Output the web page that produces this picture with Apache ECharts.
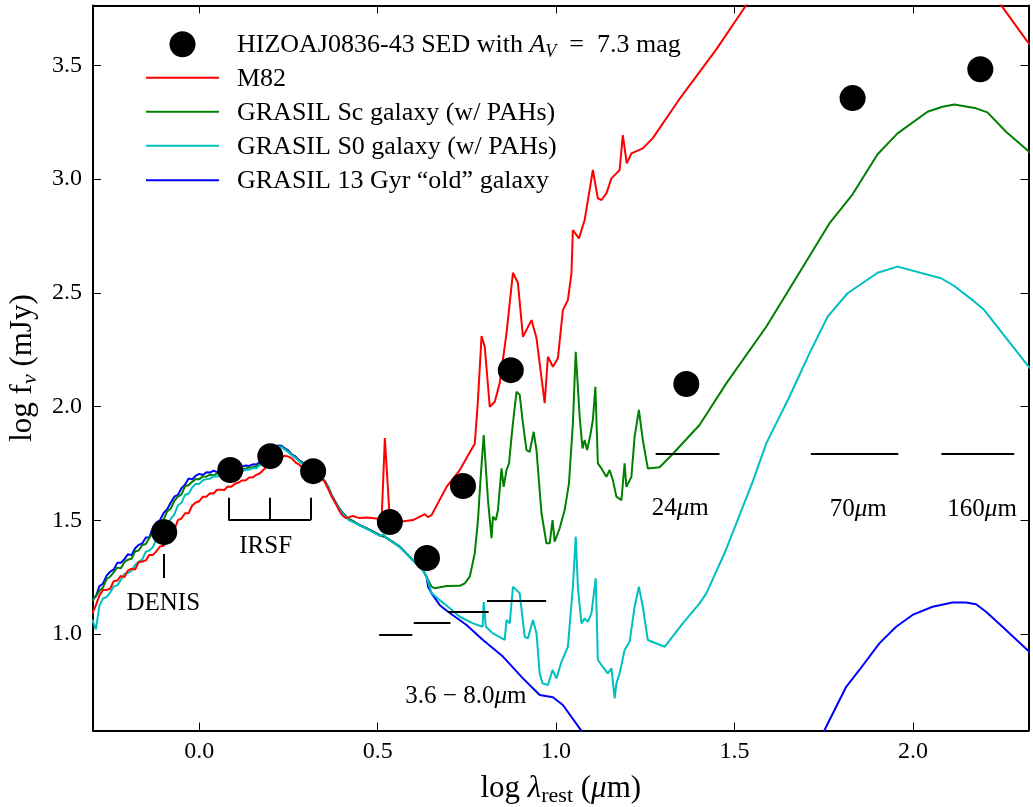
<!DOCTYPE html>
<html>
<head>
<meta charset="utf-8">
<title>HIZOAJ0836-43 SED</title>
<script src="https://cdn.jsdelivr.net/npm/echarts@6/dist/echarts.min.js"></script>
<style>
  html, body { margin: 0; padding: 0; background: #fff; }
  #chart { width: 1033px; height: 807px; }
</style>
</head>
<body>
<div id="chart"></div>
<script>
// ---- data: log wavelength (micron) vs log flux density (mJy) ----

// near-IR wavelength grid shared by the four template spectra
const nirLogLam = [-0.30,-0.29,-0.28,-0.27,-0.26,-0.25,-0.24,-0.23,-0.22,-0.21,
  -0.20,-0.19,-0.18,-0.17,-0.16,-0.15,-0.14,-0.13,-0.12,-0.11,
  -0.10,-0.09,-0.08,-0.07,-0.06,-0.05,-0.04,-0.03,-0.02,-0.01,
  0.00,0.01,0.02,0.03,0.04,0.05,0.06,0.07,0.08,0.09,
  0.10,0.11,0.12,0.13,0.14,0.15,0.16,0.17,0.18,0.19,
  0.20,0.21,0.22,0.23,0.24,0.25,0.26,0.27,0.28,0.29,
  0.30,0.31,0.32,0.33,0.34,0.35,0.36,0.37,0.38,0.39,
  0.40,0.41,0.42,0.43,0.44,0.45];

// M82
const m82Nir = [1.090,1.126,1.170,1.194,1.194,1.199,1.232,1.235,1.256,1.250,
  1.280,1.287,1.284,1.316,1.319,1.324,1.348,1.348,1.364,1.385,
  1.388,1.424,1.428,1.459,1.501,1.508,1.531,1.531,1.565,1.578,
  1.584,1.604,1.604,1.619,1.618,1.634,1.634,1.633,1.649,1.648,
  1.661,1.666,1.675,1.676,1.688,1.689,1.700,1.707,1.722,1.737,
  1.755,1.763,1.776,1.776,1.784,1.780,1.771,1.754,1.745,1.728,
  1.718,1.702,1.695,1.690,1.686,1.673,1.642,1.607,1.580,1.549,
  1.523,1.510,1.514,1.519,1.514,1.510];
const m82Tail = [[0.47,1.512],[0.49,1.509],[0.511,1.505],[0.520,1.862],[0.534,1.501],
  [0.562,1.494],[0.599,1.501],[0.632,1.527],[0.641,1.514],[0.651,1.523],[0.693,1.647],
  [0.730,1.721],[0.767,1.823],[0.772,1.836],[0.781,2.029],[0.791,2.310],[0.800,2.263],
  [0.814,1.999],[0.828,2.021],[0.842,2.103],[0.861,2.323],[0.879,2.588],[0.893,2.543],
  [0.907,2.307],[0.931,2.380],[0.945,2.301],[0.968,2.015],[0.977,2.219],[0.991,2.175],
  [1.005,2.212],[1.019,2.424],[1.033,2.468],[1.043,2.585],[1.047,2.776],[1.064,2.739],
  [1.080,2.820],[1.103,3.040],[1.117,2.915],[1.127,2.908],[1.141,2.937],[1.155,3.003],
  [1.169,3.025],[1.178,3.040],[1.187,3.193],[1.198,3.069],[1.211,3.113],[1.243,3.135],
  [1.271,3.180],[1.345,3.350],[1.449,3.570],[1.533,3.765],[1.60,3.92],[1.75,4.10],
  [1.95,4.16],[2.05,4.12],[2.15,3.97],[2.20,3.87],[2.247,3.765],[2.321,3.604],[2.34,3.57]];

// GRASIL Sc
const scNir = [1.145,1.168,1.190,1.205,1.242,1.252,1.271,1.292,1.289,1.316,
  1.327,1.331,1.364,1.367,1.391,1.396,1.423,1.445,1.469,1.496,
  1.502,1.540,1.551,1.586,1.604,1.614,1.649,1.655,1.669,1.682,
  1.681,1.693,1.692,1.701,1.696,1.706,1.709,1.708,1.713,1.711,
  1.720,1.723,1.725,1.728,1.732,1.733,1.738,1.748,1.759,1.771,
  1.789,1.812,1.825,1.823,1.812,1.801,1.786,1.776,1.761,1.750,
  1.731,1.719,1.706,1.694,1.685,1.676,1.650,1.614,1.584,1.557,
  1.535,1.518,1.504,1.496,1.487,1.478];
const scTail = [[0.48,1.456],[0.506,1.434],[0.52,1.427],[0.562,1.383],[0.599,1.324],
  [0.627,1.280],[0.637,1.250],[0.651,1.208],[0.660,1.201],[0.693,1.211],[0.730,1.212],
  [0.744,1.223],[0.758,1.252],[0.772,1.355],[0.781,1.501],[0.788,1.677],[0.797,1.875],
  [0.809,1.589],[0.819,1.421],[0.823,1.516],[0.831,1.501],[0.837,1.545],[0.847,1.728],
  [0.853,1.647],[0.861,1.721],[0.868,1.750],[0.875,1.867],[0.881,1.955],[0.889,2.065],
  [0.898,2.051],[0.907,1.926],[0.917,1.809],[0.926,1.801],[0.937,1.889],[0.945,1.809],
  [0.959,1.531],[0.973,1.399],[0.982,1.399],[0.990,1.501],[0.996,1.406],[1.010,1.465],
  [1.024,1.545],[1.036,1.662],[1.047,1.926],[1.055,2.241],[1.066,1.955],[1.074,1.816],
  [1.080,1.853],[1.087,1.809],[1.096,1.875],[1.103,1.941],[1.110,2.087],[1.117,1.750],
  [1.127,1.728],[1.141,1.691],[1.150,1.721],[1.159,1.677],[1.169,1.604],[1.183,1.589],
  [1.192,1.750],[1.197,1.647],[1.211,1.691],[1.220,1.867],[1.232,1.985],[1.243,1.853],
  [1.257,1.728],[1.290,1.733],[1.324,1.787],[1.363,1.853],[1.402,1.919],[1.477,2.102],
  [1.589,2.351],[1.635,2.468],[1.766,2.805],[1.831,2.933],[1.901,3.109],[1.957,3.201],
  [2.041,3.296],[2.083,3.318],[2.116,3.328],[2.177,3.311],[2.209,3.293],[2.261,3.208],
  [2.321,3.127],[2.34,3.10]];

// GRASIL S0
const s0Nir = [1.064,1.020,1.124,1.157,1.162,1.182,1.209,1.214,1.238,1.264,
  1.269,1.278,1.304,1.318,1.327,1.362,1.367,1.382,1.419,1.434,
  1.439,1.479,1.506,1.526,1.566,1.577,1.612,1.617,1.644,1.661,
  1.660,1.676,1.681,1.683,1.694,1.692,1.700,1.697,1.705,1.707,
  1.708,1.716,1.715,1.722,1.722,1.729,1.729,1.743,1.751,1.768,
  1.785,1.810,1.823,1.822,1.811,1.799,1.785,1.774,1.759,1.748,
  1.729,1.717,1.704,1.692,1.683,1.674,1.648,1.612,1.582,1.555,
  1.532,1.514,1.500,1.493,1.485,1.477];
const s0Tail = [[0.48,1.454],[0.506,1.432],[0.516,1.438],[0.524,1.424],[0.562,1.382],
  [0.599,1.323],[0.627,1.279],[0.637,1.250],[0.651,1.180],[0.674,1.149],[0.697,1.120],
  [0.730,1.076],[0.767,1.047],[0.794,1.032],[0.797,1.142],[0.803,1.032],[0.823,1.003],
  [0.856,0.974],[0.861,1.062],[0.870,1.047],[0.879,1.208],[0.889,1.193],[0.898,1.179],
  [0.912,0.988],[0.921,0.981],[0.935,1.062],[0.945,1.003],[0.954,0.827],[0.962,0.783],
  [0.977,0.776],[0.990,0.842],[1.001,0.805],[1.015,0.878],[1.033,0.944],[1.047,1.208],
  [1.055,1.428],[1.061,1.208],[1.071,1.047],[1.080,1.069],[1.089,1.054],[1.099,1.091],
  [1.111,1.245],[1.117,0.886],[1.131,0.856],[1.145,0.827],[1.155,0.849],[1.164,0.717],
  [1.169,0.783],[1.178,0.827],[1.192,0.930],[1.206,0.966],[1.220,1.120],[1.232,1.208],
  [1.243,1.120],[1.257,0.974],[1.304,0.944],[1.355,1.047],[1.402,1.135],[1.421,1.179],
  [1.472,1.355],[1.551,1.670],[1.589,1.838],[1.654,2.043],[1.710,2.234],[1.761,2.395],
  [1.817,2.498],[1.901,2.588],[1.957,2.615],[2.079,2.564],[2.116,2.530],[2.167,2.468],
  [2.200,2.424],[2.321,2.182],[2.34,2.15]];

// GRASIL 13 Gyr old galaxy
const oldNir = [1.158,1.165,1.211,1.221,1.257,1.274,1.283,1.313,1.313,1.329,
  1.351,1.347,1.377,1.392,1.398,1.424,1.425,1.469,1.491,1.501,
  1.532,1.549,1.578,1.604,1.612,1.641,1.657,1.684,1.680,1.696,
  1.704,1.699,1.711,1.710,1.718,1.712,1.718,1.725,1.718,1.727,
  1.731,1.736,1.737,1.741,1.739,1.746,1.745,1.757,1.766,1.779,
  1.798,1.816,1.829,1.828,1.816,1.806,1.789,1.780,1.763,1.754,
  1.733,1.722,1.708,1.695,1.686,1.677,1.651,1.615,1.585,1.558,
  1.536,1.519,1.505,1.497,1.488,1.479];
const oldTail = [[0.48,1.457],[0.506,1.435],[0.52,1.428],[0.562,1.384],[0.599,1.325],
  [0.627,1.281],[0.637,1.252],[0.641,1.208],[0.651,1.179],[0.674,1.127],[0.697,1.098],
  [0.749,1.040],[0.795,0.974],[0.851,0.901],[0.907,0.805],[0.954,0.732],[0.991,0.722],
  [1.019,0.688],[1.066,0.585],[1.10,0.51],[1.2,0.30],[1.35,0.12],[1.5,0.06],[1.6,0.15],
  [1.65,0.27],[1.70,0.41],[1.752,0.577],[1.813,0.768],[1.850,0.842],[1.906,0.959],
  [1.953,1.032],[1.999,1.084],[2.055,1.120],[2.111,1.139],[2.149,1.139],[2.177,1.131],
  [2.205,1.098],[2.251,1.032],[2.321,0.930],[2.34,0.90]];

// HIZOAJ0836-43 photometry
const sedLogLam = [-0.0985, 0.0868, 0.199, 0.319, 0.534, 0.638, 0.739, 0.873, 1.365, 1.831, 2.189];
const sedLogF   = [1.448, 1.721, 1.782, 1.716, 1.492, 1.334, 1.651, 2.160, 2.099, 3.356, 3.483];

// filter band markers: DENIS, IRSF bracket, IRAC 3.6-8.0, MIPS 24/70/160
const filterBars = [
  [[-0.0985,1.246],[-0.0985,1.352]],
  [[0.0815,1.501],[0.313,1.501]],
  [[0.0815,1.501],[0.0815,1.599]],
  [[0.196,1.501],[0.196,1.599]],
  [[0.313,1.501],[0.313,1.599]],
  [[0.504,0.997],[0.597,0.997]],
  [[0.601,1.048],[0.704,1.048]],
  [[0.697,1.097],[0.811,1.097]],
  [[0.806,1.145],[0.972,1.145]],
  [[1.279,1.794],[1.458,1.794]],
  [[1.714,1.794],[1.959,1.794]],
  [[2.080,1.794],[2.284,1.794]]
];
const bandLabels = [
  [-0.101, 1.136, 'DENIS'],
  [0.186, 1.384, 'IRSF'],
  [0.747, 0.727, '3.6 \u2212 8.0\u03bcm'],
  [1.348, 1.554, '24\u03bcm'],
  [1.847, 1.549, '70\u03bcm'],
  [2.194, 1.549, '160\u03bcm']
];

const xTicks = [0.0, 0.5, 1.0, 1.5, 2.0];
const yTicks = [1.0, 1.5, 2.0, 2.5, 3.0, 3.5];

const seriesNames = ['M82', 'GRASIL Sc galaxy (w/ PAHs)', 'GRASIL S0 galaxy (w/ PAHs)', 'GRASIL 13 Gyr \u201cold\u201d galaxy'];
const seriesColors = ['#ff0000', '#008000', '#00bfbf', '#0000ff'];
const sedName = 'HIZOAJ0836-43 SED with A_V = 7.3 mag';

// ---- chart ----
const FONT = '"Liberation Serif", "DejaVu Serif", serif';

function spectrum(nir, tail) {
  return nirLogLam.map((x, i) => [x, nir[i]]).concat(tail);
}
const curves = [spectrum(m82Nir, m82Tail), spectrum(scNir, scTail), spectrum(s0Nir, s0Tail), spectrum(oldNir, oldTail)];

const chart = echarts.init(document.getElementById('chart'), null, { renderer: 'canvas' });

const axisCommon = {
  type: 'value',
  axisLine: { show: true, onZero: false, lineStyle: { color: '#000', width: 2 } },
  splitLine: { show: false }
};

const xRange = { min: -0.298, max: 2.324 };
const yRange = { min: 0.576, max: 3.763 };

// draw order: blue at the back, red in front
const lineOrder = [3, 1, 2, 0];
const lineSeries = lineOrder.map((k, j) => ({
  name: seriesNames[k],
  type: 'line',
  data: curves[k],
  symbol: 'none',
  showSymbol: false,
  silent: true,
  z: 2 + j,
  lineStyle: { color: seriesColors[k], width: 2 },
  itemStyle: { color: seriesColors[k] }
}));

const mathRich = {
  i: { fontFamily: FONT, fontStyle: 'italic', fontSize: 25, color: '#000' }
};

// legend rows (drawn as graphics in the upper left corner)
const legendX0 = 146, legendX1 = 219, legendTextX = 237;
const legendRowsY = [44.3, 77.7, 111.7, 145.7, 180.3];
const legendGraphics = [];
legendGraphics.push({
  type: 'circle', shape: { cx: (legendX0 + legendX1) / 2, cy: legendRowsY[0], r: 13 },
  style: { fill: '#000' }, silent: true
});
legendGraphics.push({
  type: 'text', silent: true,
  style: {
    x: legendTextX, y: legendRowsY[0] + 1,
    text: '{t|HIZOAJ0836-43 SED with }{i|A}{s|V}{t|  =  7.3 mag}',
    verticalAlign: 'middle', fill: '#000', fontFamily: FONT, fontSize: 26,
    rich: {
      t: { fontFamily: FONT, fontSize: 26, fill: '#000' },
      i: { fontFamily: FONT, fontSize: 26, fontStyle: 'italic', fill: '#000' },
      s: { fontFamily: FONT, fontSize: 18, fontStyle: 'italic', fill: '#000', lineHeight: 20, padding: [14, 0, 0, 0] }
    }
  }
});
seriesNames.forEach((nm, k) => {
  const y = legendRowsY[k + 1];
  legendGraphics.push({
    type: 'line', silent: true,
    shape: { x1: legendX0, y1: y, x2: legendX1, y2: y },
    style: { stroke: seriesColors[k], lineWidth: 2 }
  });
  legendGraphics.push({
    type: 'text', silent: true,
    style: { x: legendTextX, y: y + 1, text: nm, verticalAlign: 'middle', fill: '#000', fontFamily: FONT, fontSize: 26 }
  });
});

const option = {
  animation: false,
  backgroundColor: '#fff',
  grid: { left: 93, right: 4.5, top: 5.5, bottom: 76.5, containLabel: false, outerBoundsMode: 'none' },
  xAxis: [
    Object.assign({}, axisCommon, xRange, {
      position: 'bottom',
      axisTick: { show: true, inside: true, length: 8, customValues: xTicks, lineStyle: { color: '#000', width: 1 } },
      axisLabel: { customValues: xTicks, formatter: v => v.toFixed(1), margin: 9, fontFamily: FONT, fontSize: 24, color: '#000' },
      name: '{t|log }{g|\u03bb}{s|rest}{t| (}{g|\u03bc}{t|m)}',
      nameLocation: 'middle',
      nameGap: 43,
      nameTextStyle: {
        fontFamily: FONT, fontSize: 31, color: '#000',
        rich: {
          t: { fontFamily: FONT, fontSize: 31, color: '#000' },
          g: { fontFamily: FONT, fontSize: 31, fontStyle: 'italic', color: '#000' },
          s: { fontFamily: FONT, fontSize: 22, color: '#000', lineHeight: 22, padding: [14, 0, 0, 0] }
        }
      }
    }),
    Object.assign({}, axisCommon, xRange, {
      position: 'top',
      axisTick: { show: true, inside: true, length: 8, customValues: xTicks, lineStyle: { color: '#000', width: 1 } },
      axisLabel: { show: false }
    })
  ],
  yAxis: [
    Object.assign({}, axisCommon, yRange, {
      position: 'left',
      axisTick: { show: true, inside: true, length: 8, customValues: yTicks, lineStyle: { color: '#000', width: 1 } },
      axisLabel: { customValues: yTicks, formatter: v => v.toFixed(1), margin: 11, fontFamily: FONT, fontSize: 24, color: '#000' },
      name: '{t|log f}{s|\u03bd}{t| (mJy)}',
      nameLocation: 'middle',
      nameGap: 51,
      nameTextStyle: {
        fontFamily: FONT, fontSize: 31, color: '#000',
        rich: {
          t: { fontFamily: FONT, fontSize: 31, color: '#000' },
          s: { fontFamily: FONT, fontSize: 22, fontStyle: 'italic', color: '#000', lineHeight: 22, padding: [14, 0, 0, 0] }
        }
      }
    }),
    Object.assign({}, axisCommon, yRange, {
      position: 'right',
      axisTick: { show: true, inside: true, length: 8, customValues: yTicks, lineStyle: { color: '#000', width: 1 } },
      axisLabel: { show: false }
    })
  ],
  series: lineSeries.concat([
    {
      name: 'filter bands',
      type: 'lines',
      coordinateSystem: 'cartesian2d',
      silent: true,
      z: 8,
      data: filterBars.map(c => ({ coords: c })),
      lineStyle: { color: '#000', width: 2, opacity: 1, curveness: 0 }
    },
    {
      name: 'band labels',
      type: 'scatter',
      silent: true,
      z: 9,
      symbolSize: 1,
      itemStyle: { color: 'rgba(0,0,0,0)', opacity: 1 },
      data: bandLabels,
      label: {
        show: true,
        position: 'inside',
        opacity: 1,
        formatter: p => p.data[2].replace('\u03bc', '{i|\u03bc}'),
        fontFamily: FONT, fontSize: 25, color: '#000', textBorderWidth: 0,
        rich: mathRich
      }
    },
    {
      name: sedName,
      type: 'scatter',
      silent: true,
      z: 10,
      symbol: 'circle',
      symbolSize: 26,
      itemStyle: { color: '#000', opacity: 1 },
      data: sedLogLam.map((x, i) => [x, sedLogF[i]])
    }
  ]),
  graphic: legendGraphics
};

chart.setOption(option);
</script>
</body>
</html>
